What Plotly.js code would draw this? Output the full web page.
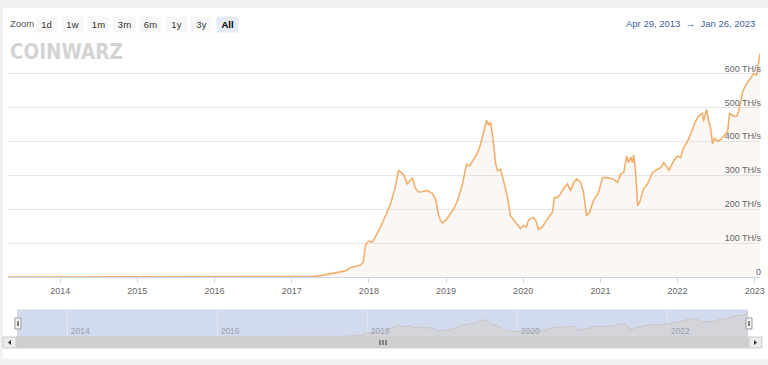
<!DOCTYPE html>
<html>
<head>
<meta charset="utf-8">
<script src="https://cdn.plot.ly/plotly-3.0.1.min.js"></script>
<style>
  html, body { margin: 0; padding: 0; background: #f1f1f1; width: 768px; height: 365px; overflow: hidden; }
  #card { position: absolute; left: 3px; top: 8px; width: 765px; height: 351px; background: #ffffff; }
  #chart { position: absolute; left: 0; top: 0; width: 768px; height: 365px; }
</style>
</head>
<body>
<div id="card"></div>
<div id="chart"></div>
<script>
// ---- data (hashrate, TH/s) ----
const dates = ['2013-04-29','2013-09-01','2014-01-01','2014-06-01','2015-01-01','2015-06-01','2016-01-01','2016-06-01','2016-11-01','2017-02-11',
'2017-04-13','2017-05-16','2017-06-18','2017-08-04','2017-09-11','2017-10-05','2017-10-29','2017-11-22','2017-12-06','2017-12-16',
'2017-12-30','2018-01-18','2018-02-06','2018-02-25','2018-03-20','2018-04-13','2018-05-07','2018-05-21','2018-06-03','2018-06-14',
'2018-07-02','2018-07-26','2018-08-09','2018-08-24','2018-09-11','2018-10-05','2018-10-29','2018-11-12','2018-11-26','2018-12-05',
'2018-12-15','2019-01-03','2019-01-22','2019-02-10','2019-02-24','2019-03-20','2019-04-08','2019-04-22','2019-05-07','2019-05-30',
'2019-06-14','2019-06-28','2019-07-12','2019-07-22','2019-07-31','2019-08-14','2019-08-24','2019-09-02','2019-09-16','2019-09-30',
'2019-10-19','2019-11-02','2019-11-26','2019-12-19','2020-01-02','2020-01-16','2020-01-26','2020-02-09','2020-02-19','2020-03-04',
'2020-03-13','2020-04-01','2020-04-25','2020-05-19','2020-05-28','2020-06-11','2020-06-26','2020-07-10','2020-07-29','2020-08-12',
'2020-08-27','2020-09-10','2020-09-29','2020-10-13','2020-10-27','2020-11-10','2020-11-29','2020-12-23','2021-01-11','2021-02-04',
'2021-02-28','2021-03-23','2021-04-07','2021-04-21','2021-05-05','2021-05-14','2021-05-24','2021-06-02','2021-06-07','2021-06-16',
'2021-06-26','2021-07-05','2021-07-24','2021-08-12','2021-09-05','2021-09-28','2021-10-13','2021-10-27','2021-11-15','2021-11-20',
'2021-12-13','2022-01-01','2022-01-15','2022-01-29','2022-02-17','2022-03-03','2022-03-27','2022-04-10','2022-04-29','2022-05-04',
'2022-05-18','2022-05-28','2022-06-06','2022-06-16','2022-06-25','2022-07-09','2022-07-24','2022-08-07','2022-08-26','2022-09-04',
'2022-09-23','2022-10-08','2022-10-17','2022-11-05','2022-11-29','2022-12-13','2022-12-27','2023-01-10','2023-01-19','2023-01-26'];

const hashrate = [0.02,0.05,0.1,0.2,0.4,0.5,0.8,1.0,1.2,1.5,
2,4,8,13,18,27,32,35,45,95,
106,103,125,147,180,214,268,315,308,302,
275,292,262,250,252,255,246,230,185,168,
159,170,187,205,225,275,333,327,342,366,
392,430,462,447,457,392,333,313,318,284,
235,181,162,143,152,147,167,172,176,162,
140,147,172,191,235,234,245,260,275,254,
279,289,279,249,181,191,225,249,293,293,
289,279,304,308,357,337,354,337,360,313,
210,220,260,275,308,318,322,337,322,313,
342,357,352,381,400,421,459,474,483,459,
494,459,439,392,410,400,406,415,430,483,
474,474,488,547,576,586,600,596,640,659];

const yTickVals = [0,100,200,300,400,500,600,700];
const yTickText = ['0','100 TH/s','200 TH/s','300 TH/s','400 TH/s','500 TH/s','600 TH/s',''];
const xTickYears = ['2014','2015','2016','2017','2018','2019','2020','2021','2022','2023'];
const navTickYears = ['2014','2016','2018','2020','2022'];
const zoomButtons = ['1d','1w','1m','3m','6m','1y','3y','All'];
const selectedButton = 'All';
const rangeText = 'Apr 29, 2013  \u2192  Jan 26, 2023';

// ---- helpers: pixel -> paper (margins are zero, paper == page) ----
const W = 768, H = 365;
const px = v => v / W;
const py = v => 1 - v / H;

const startDate = dates[0], endDate = dates[dates.length - 1];

const traces = [
  {
    x: dates, y: hashrate, type: 'scatter', mode: 'lines',
    line: { color: '#f2b06c', width: 1.6 },
    fill: 'tozeroy', fillcolor: 'rgba(226,206,192,0.17)',
    hoverinfo: 'x+y', xaxis: 'x', yaxis: 'y', showlegend: false
  },
  {
    x: dates, y: hashrate, type: 'scatter', mode: 'lines',
    line: { color: '#c9bfbc', width: 0.8 },
    fill: 'tozeroy', fillcolor: '#d4d5da',
    hoverinfo: 'skip', xaxis: 'x2', yaxis: 'y2', showlegend: false
  },
  { // carrier for the value-label axis (invisible)
    x: dates, y: hashrate, type: 'scatter', mode: 'lines', opacity: 0,
    line: { width: 0 }, hoverinfo: 'skip', xaxis: 'x', yaxis: 'y3', showlegend: false
  }
];

const annotations = [];
annotations.push({
  xref: 'paper', yref: 'paper', x: px(8), y: py(24), xanchor: 'left', yanchor: 'middle',
  text: 'Zoom', showarrow: false, font: { family: 'Liberation Sans, Arial, sans-serif', size: 9.5, color: '#555' }
});
zoomButtons.forEach((b, i) => {
  const sel = b === selectedButton;
  annotations.push({
    xref: 'paper', yref: 'paper', x: px(46.5 + i * 25.9), y: py(24.5), xanchor: 'center', yanchor: 'middle',
    text: sel ? '<b>' + b + '</b>' : b, showarrow: false, width: 21, height: 15, borderpad: 0,
    bgcolor: sel ? '#e6ebf5' : '#f7f7f7',
    font: { family: 'Liberation Sans, Arial, sans-serif', size: 9.5, color: sel ? '#000' : '#333' }
  });
});
annotations.push({
  xref: 'paper', yref: 'paper', x: px(757), y: py(24), xanchor: 'right', yanchor: 'middle',
  text: rangeText, showarrow: false, font: { family: 'Liberation Sans, Arial, sans-serif', size: 9.5, color: '#3f5f9c' }
});
annotations.push({
  xref: 'paper', yref: 'paper', x: px(8), y: py(52), xanchor: 'left', yanchor: 'middle',
  text: '<b>COINWARZ</b>', showarrow: false,
  font: { family: 'DejaVu Sans Condensed, DejaVu Sans, sans-serif', size: 20.5, color: '#d3d3d3' }
});

const shapes = [];
// navigator background (selected range mask)
shapes.push({ type: 'rect', xref: 'x2 domain', yref: 'y2 domain', x0: 0, x1: 1, y0: 0, y1: 1, fillcolor: '#d2daee', line: { width: 0 }, layer: 'below' });
// scrollbar track + thumb
shapes.push({ type: 'rect', xref: 'paper', yref: 'paper', x0: px(3), x1: px(762), y0: py(348), y1: py(337), fillcolor: '#f2f2f2', line: { width: 0 }, layer: 'below' });
shapes.push({ type: 'rect', xref: 'paper', yref: 'paper', x0: px(16), x1: px(749), y0: py(348), y1: py(337), fillcolor: '#cfcfcf', line: { color: '#cfcfcf', width: 1 } });
// arrow buttons
shapes.push({ type: 'rect', xref: 'paper', yref: 'paper', x0: px(3), x1: px(16), y0: py(348), y1: py(337), fillcolor: '#ebebeb', line: { color: '#cccccc', width: 1 } });
shapes.push({ type: 'rect', xref: 'paper', yref: 'paper', x0: px(749), x1: px(762), y0: py(348), y1: py(337), fillcolor: '#ebebeb', line: { color: '#cccccc', width: 1 } });
shapes.push({ type: 'path', xref: 'paper', yref: 'paper',
  path: `M ${px(8)} ${py(342.5)} L ${px(11)} ${py(340)} L ${px(11)} ${py(345)} Z`, fillcolor: '#333', line: { width: 0 } });
shapes.push({ type: 'path', xref: 'paper', yref: 'paper',
  path: `M ${px(757)} ${py(342.5)} L ${px(754)} ${py(340)} L ${px(754)} ${py(345)} Z`, fillcolor: '#333', line: { width: 0 } });
// grip
[380, 383, 386].forEach(g => shapes.push({ type: 'line', xref: 'paper', yref: 'paper', x0: px(g), x1: px(g), y0: py(340), y1: py(345), line: { color: '#333', width: 1 } }));
// navigator handles
[[15, 21], [746, 752]].forEach(([a, b]) => {
  shapes.push({ type: 'rect', xref: 'paper', yref: 'paper', x0: px(a), x1: px(b), y0: py(329), y1: py(318), fillcolor: '#f2f2f2', line: { color: '#999999', width: 1 } });
  [a + 2.5, a + 3.5].forEach(g => shapes.push({ type: 'line', xref: 'paper', yref: 'paper', x0: px(g), x1: px(g), y0: py(321), y1: py(326), line: { color: '#333', width: 0.6 } }));
});

const axisFont = { family: 'Liberation Sans, Arial, sans-serif', size: 9, color: '#666' };

const layout = {
  width: W, height: H,
  margin: { l: 0, r: 0, t: 0, b: 0, pad: 0 },
  paper_bgcolor: 'rgba(0,0,0,0)', plot_bgcolor: 'rgba(0,0,0,0)',
  showlegend: false,
  xaxis: {
    domain: [px(8), px(760)], range: [startDate, endDate], type: 'date',
    tickvals: xTickYears.map(y => y + '-01-01'), ticktext: xTickYears,
    ticks: 'outside', ticklen: 5, tickcolor: '#ccd6eb', tickwidth: 1,
    showgrid: false, showline: true, linecolor: '#ccd6eb', linewidth: 1,
    tickfont: axisFont, fixedrange: true, anchor: 'y'
  },
  yaxis: {
    domain: [py(277), py(39.6)], range: [0, 700], side: 'right',
    tickvals: yTickVals, showticklabels: false, ticks: '',
    showgrid: true, gridcolor: '#e6e6e6', gridwidth: 1, zeroline: false,
    fixedrange: true, anchor: 'x'
  },
  yaxis3: {
    overlaying: 'y', anchor: 'free', position: px(761), side: 'left', range: [0, 700],
    tickvals: yTickVals, ticktext: yTickText, ticks: '', ticklabelshift: -5,
    showgrid: false, zeroline: false, showline: false,
    tickfont: axisFont, fixedrange: true
  },
  xaxis2: {
    domain: [px(17), px(748)], range: [startDate, endDate], type: 'date',
    tickvals: navTickYears.map(y => y + '-01-01'), ticktext: navTickYears,
    ticklabelposition: 'inside right', ticks: '', ticklabelstandoff: -5, ticklabelshift: 3,
    showgrid: true, gridcolor: '#e3e6ee', gridwidth: 1,
    showline: false, zeroline: false,
    tickfont: { family: 'Liberation Sans, Arial, sans-serif', size: 8.5, color: '#9aa0ad' },
    fixedrange: true, anchor: 'y2'
  },
  yaxis2: {
    domain: [py(337), py(309.5)], range: [0, 740], showticklabels: false, showgrid: false,
    zeroline: false, ticks: '', fixedrange: true, anchor: 'x2'
  },
  shapes: shapes,
  annotations: annotations
};

Plotly.newPlot('chart', traces, layout, { displayModeBar: false, staticPlot: true });
</script>
</body>
</html>
